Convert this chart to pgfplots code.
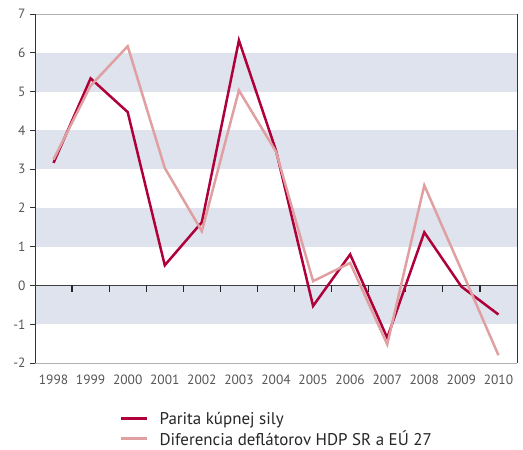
\documentclass[border=0pt]{standalone}
\usepackage{pgfplots}
\pgfplotsset{compat=1.18}
\usepackage{fontspec}
\setmainfont{PT Sans}
\definecolor{cdark}{HTML}{B0003A}
\definecolor{cpink}{HTML}{E0A0A2}
\definecolor{band}{HTML}{DEE3ED}
\definecolor{lab}{HTML}{555555}
\begin{document}
\begin{tikzpicture}
\begin{axis}[
  name=ax,
  scale only axis,
  width=482bp, height=349bp,
  xmin=-0.5, xmax=12.5, ymin=-2, ymax=7,
  axis line style={draw=none},
  xtick={0,...,12},
  xticklabels={1998,1999,2000,2001,2002,2003,2004,2005,2006,2007,2008,2009,2010},
  ytick={-2,...,7},
  x tick style={draw=none},
  y tick style={draw=black!80, line width=0.8pt},
  tick align=outside, tick pos=left,
  major tick length=5bp,
  /pgf/number format/assume math mode=true,
  tick label style={font=\fontsize{13.5}{15}\selectfont, text=lab},
  xticklabel style={yshift=-3bp},
  yticklabel style={xshift=-1bp},
  legend style={at={(0.17,-0.128)}, anchor=north west, draw=none,
    font=\fontsize{17}{19}\selectfont, row sep=1bp, text=black!85,
    /tikz/every odd column/.append style={column sep=9bp}},
  legend cell align=left,
  legend image code/.code={\draw[#1, line width=2.5pt] (0bp,0bp) -- (26bp,0bp);},
  clip=false,
]
\fill[band] (axis cs:-0.5,5) rectangle (axis cs:12.5,6);
\fill[band] (axis cs:-0.5,3) rectangle (axis cs:12.5,4);
\fill[band] (axis cs:-0.5,1) rectangle (axis cs:12.5,2);
\fill[band] (axis cs:-0.5,-1) rectangle (axis cs:12.5,0);
\draw[black!30, line width=0.8pt] (axis cs:-0.5,7) -- (axis cs:12.5,7);
\draw[black!30, line width=0.8pt] (axis cs:-0.5,-2) -- (axis cs:12.5,-2);
\draw[black!80, line width=0.8pt] (axis cs:-0.5,-2) -- (axis cs:-0.5,7);
\draw[black!80, line width=0.8pt] (axis cs:12.5,-2) -- (axis cs:12.5,7);
\draw[black!75, line width=1.1pt] (axis cs:-0.5,0) -- (axis cs:12.5,0);
\addplot[ycomb, black!85, line width=1.3pt, mark=none, forget plot] coordinates {
(0.5,-0.16) (1.5,-0.16) (2.5,-0.16) (3.5,-0.16) (4.5,-0.16) (5.5,-0.16)
(6.5,-0.16) (7.5,-0.16) (8.5,-0.16) (9.5,-0.16) (10.5,-0.16) (11.5,-0.16)};
\addplot[cdark, line width=2.5pt, mark=none, line join=miter] coordinates {
(0,3.16) (1,5.34) (2,4.47) (3,0.52) (4,1.63) (5,6.32) (6,3.48)
(7,-0.53) (8,0.80) (9,-1.35) (10,1.37) (11,-0.03) (12,-0.75)};
\addlegendentry{Parita kúpnej sily}
\addplot[cpink, line width=2.5pt, mark=none, line join=miter] coordinates {
(0,3.25) (1,5.15) (2,6.17) (3,3.03) (4,1.40) (5,5.03) (6,3.45)
(7,0.11) (8,0.58) (9,-1.52) (10,2.58) (11,0.40) (12,-1.80)};
\addlegendentry{Diferencia deflátorov HDP SR a EÚ 27}
\end{axis}
\pgfresetboundingbox
\path ([shift={(-35bp,-87bp)}]ax.south west) rectangle ([shift={(6bp,14bp)}]ax.north east);
\end{tikzpicture}
\end{document}
